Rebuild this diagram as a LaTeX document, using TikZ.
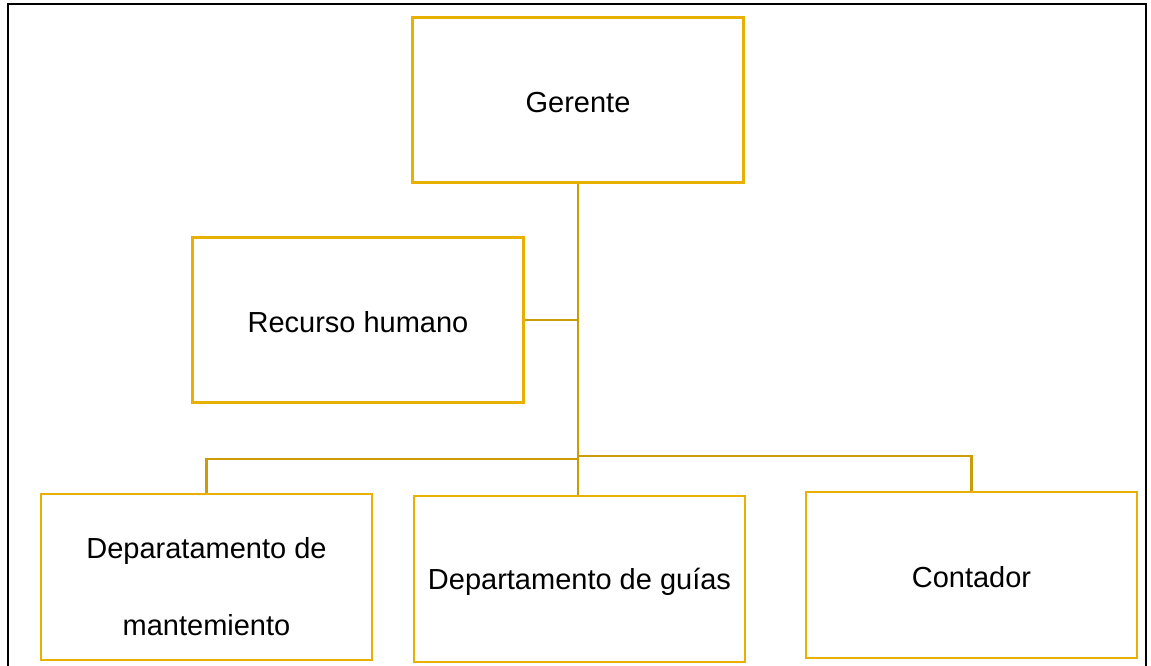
\documentclass[tikz,border=0pt]{standalone}
\usepackage{fontspec}
\setmainfont{Liberation Sans}
\tikzset{
  puesto/.style={draw=boxgold, line width=2.8pt, minimum width=331pt, minimum height=165pt,
    inner sep=0pt},
  cargo/.style={align=center, inner sep=0pt, font=\fontsize{29}{77}\selectfont},
  enlace/.style={draw=linkgold, line width=2.5pt}
}
\definecolor{boxgold}{HTML}{E8B000}
\definecolor{linkgold}{HTML}{CC9C08}
\begin{document}
\begin{tikzpicture}[x=1pt,y=-1pt]
\useasboundingbox (0,0) rectangle (1151,665);
% marco de la hoja
\draw[line width=1.5pt] (8,666) -- (8,4) -- (1146,4) -- (1146,666);
% puestos
\node[puesto, label={[cargo, yshift=-2.5pt]center:Gerente}] (ger) at (578,100) {};
\node[puesto, label={[cargo, yshift=-2.5pt]center:Recurso humano}] (rh) at (358,320) {};
\node[puesto, minimum height=166pt,
  label={[cargo, yshift=-10pt]center:Deparatamento de\\mantemiento}] (mant) at (206.5,577) {};
\node[puesto, minimum height=166pt,
  label={[cargo, yshift=-3pt]center:Departamento de guías}] (guia) at (579.5,579) {};
\node[puesto, minimum height=166pt,
  label={[cargo, yshift=-2.5pt]center:Contador}] (cont) at (971.5,575) {};
% lineas
\coordinate (jL) at (578,459);
\coordinate (jR) at (578,456);
\draw[enlace] (ger.south) -- (ger.south |- guia.north);
\draw[enlace] (rh.east) -- (rh.east -| ger.south);
\draw[enlace] (jL) -| (mant.north);
\draw[enlace] (jR) -| (cont.north);
\end{tikzpicture}
\end{document}
